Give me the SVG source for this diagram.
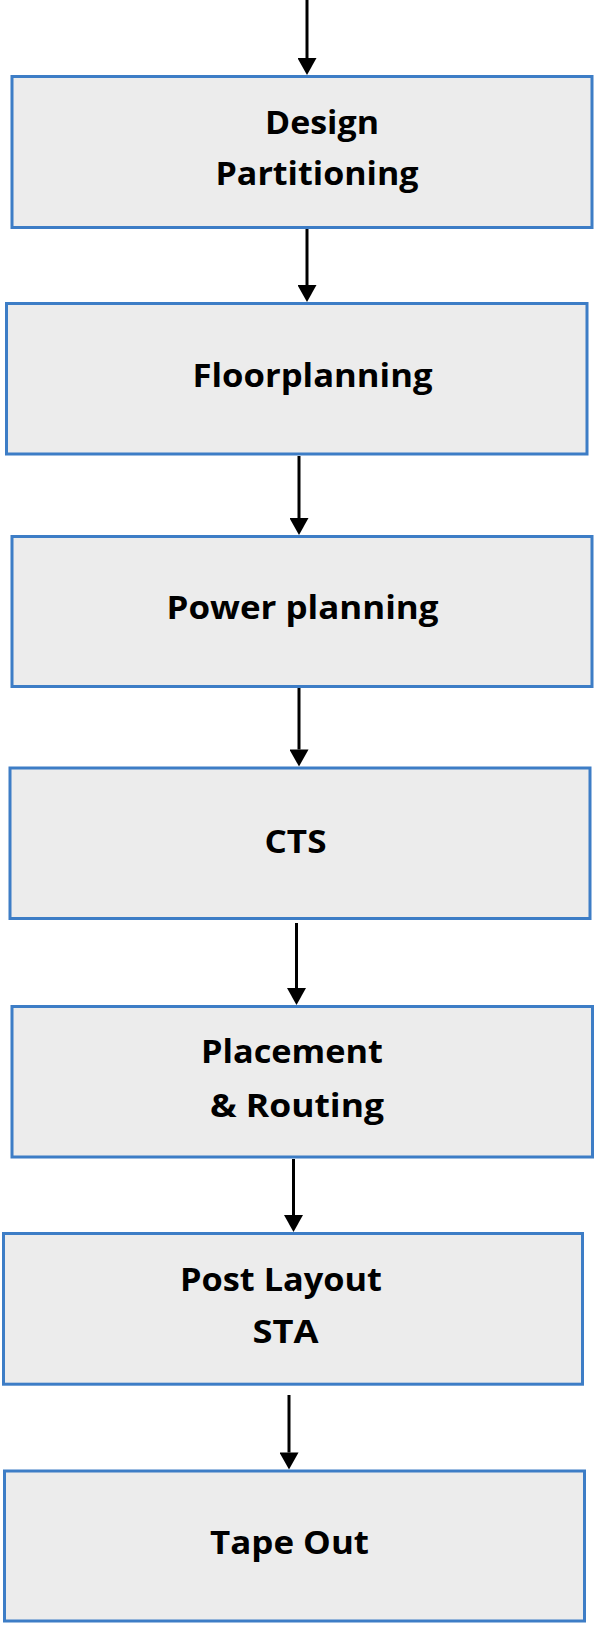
<svg xmlns="http://www.w3.org/2000/svg" width="596" height="1625" viewBox="0 0 596 1625">
<style>
.box{fill:#ECECEC;stroke:#3D7DC6;stroke-width:3}
.lbl{font-family:"Open Sans","Liberation Sans",sans-serif;font-weight:bold;font-size:31.5px;fill:#000}
.arr{stroke:#000;stroke-width:3;fill:none}
</style>
<defs>
<marker id="ah" markerUnits="userSpaceOnUse" markerWidth="18" markerHeight="19" viewBox="0 0 17 19" refX="0" refY="9.5" orient="auto">
<path d="M0,0 L17,9.5 L0,19 z" fill="#000"/>
</marker>
</defs>
<rect width="596" height="1625" fill="#fff"/>
<g id="connectors">
<line class="arr" x1="307" y1="0" x2="307" y2="58" marker-end="url(#ah)"/>
<line class="arr" x1="307" y1="229" x2="307" y2="285" marker-end="url(#ah)"/>
<line class="arr" x1="299" y1="456" x2="299" y2="518" marker-end="url(#ah)"/>
<line class="arr" x1="299" y1="688" x2="299" y2="749.5" marker-end="url(#ah)"/>
<line class="arr" x1="296.5" y1="923" x2="296.5" y2="988" marker-end="url(#ah)"/>
<line class="arr" x1="293.5" y1="1159" x2="293.5" y2="1215" marker-end="url(#ah)"/>
<line class="arr" x1="289" y1="1395" x2="289" y2="1452.5" marker-end="url(#ah)"/>
</g>
<g id="design-partitioning">
<rect class="box" x="12" y="76.5" width="580" height="151"/>
<text class="lbl" x="265" y="133.5" textLength="114" lengthAdjust="spacingAndGlyphs">Design</text>
<text class="lbl" x="215.5" y="185" textLength="203" lengthAdjust="spacingAndGlyphs">Partitioning</text>
</g>
<g id="floorplanning">
<rect class="box" x="6.5" y="303.5" width="580.5" height="150.5"/>
<text class="lbl" x="192.5" y="387" textLength="240" lengthAdjust="spacingAndGlyphs">Floorplanning</text>
</g>
<g id="power-planning">
<rect class="box" x="12" y="536.5" width="580" height="150"/>
<text class="lbl" x="166.5" y="618.5" textLength="272" lengthAdjust="spacingAndGlyphs">Power planning</text>
</g>
<g id="cts">
<rect class="box" x="10" y="768" width="580" height="150.5"/>
<text class="lbl" x="264.5" y="852.5" textLength="62" lengthAdjust="spacingAndGlyphs">CTS</text>
</g>
<g id="placement-routing">
<rect class="box" x="12" y="1006.5" width="580.5" height="150.5"/>
<text class="lbl" x="201" y="1062.5" textLength="182" lengthAdjust="spacingAndGlyphs">Placement</text>
<text class="lbl" x="210" y="1116.5" textLength="174" lengthAdjust="spacingAndGlyphs">&amp; Routing</text>
</g>
<g id="post-layout-sta">
<rect class="box" x="3.5" y="1233.5" width="579" height="150.7"/>
<text class="lbl" x="180" y="1290.5" textLength="202" lengthAdjust="spacingAndGlyphs">Post Layout</text>
<text class="lbl" x="252.5" y="1343" textLength="66" lengthAdjust="spacingAndGlyphs">STA</text>
</g>
<g id="tape-out">
<rect class="box" x="4.5" y="1471" width="580" height="150"/>
<text class="lbl" x="210" y="1554" textLength="159" lengthAdjust="spacingAndGlyphs">Tape Out</text>
</g>
</svg>
